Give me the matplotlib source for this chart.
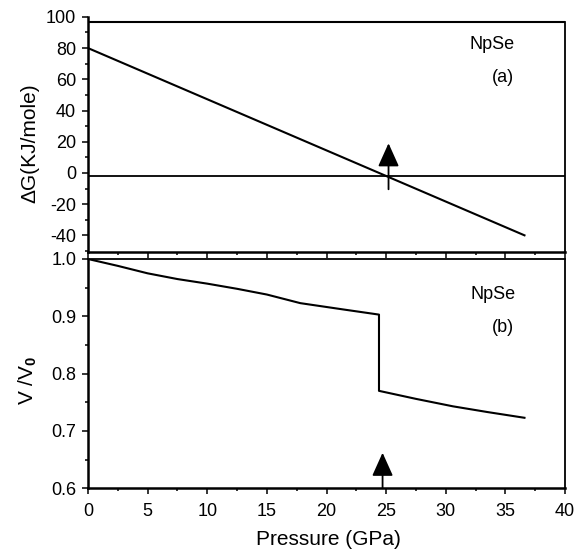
import matplotlib
matplotlib.use('Agg')
import matplotlib.pyplot as plt
from matplotlib.ticker import MultipleLocator

plt.rcParams['font.family'] = ['Liberation Sans', 'DejaVu Sans']
plt.rcParams['mathtext.fontset'] = 'custom'
plt.rcParams['mathtext.rm'] = 'Liberation Sans'
plt.rcParams['mathtext.bf'] = 'Liberation Sans:bold'
plt.rcParams['axes.unicode_minus'] = False

# (a) free energy difference vs pressure
p_dg = [0, 36.6]
dg = [80, -40]
dg_zero_line = -2
p_trans_a = 25.2

# (b) relative volume vs pressure
p_v = [0, 2.5, 5, 7.5, 10, 12.5, 15, 17.8, 21.4, 24.4, 24.4, 27.5, 30.6, 33.5, 36.6]
v_v0 = [1.0, 0.988, 0.975, 0.965, 0.957, 0.948, 0.938, 0.923, 0.912, 0.903,
        0.770, 0.756, 0.743, 0.733, 0.723]
p_trans_b = 24.7

fig = plt.figure(figsize=(5.86, 5.52), dpi=100)
ax1 = fig.add_axes([0.1502, 0.5426, 0.814, 0.4268])
ax2 = fig.add_axes([0.1502, 0.1154, 0.814, 0.4154])

for ax in (ax1, ax2):
    ax.set_xlim(0, 40)
    ax.xaxis.set_major_locator(MultipleLocator(5))
    ax.xaxis.set_minor_locator(MultipleLocator(2.5))
    ax.tick_params(which='major', direction='out', length=4.5, width=1.1,
                   labelsize=13, pad=4)
    ax.tick_params(which='minor', direction='out', length=2.2, width=1.1)
    for s in ax.spines.values():
        s.set_linewidth(1.3)
    ax.spines['left'].set_linewidth(1.8)
    ax.spines['bottom'].set_linewidth(1.8)

# top panel
ax1.plot(p_dg, dg, color='black', lw=1.5)
ax1.axhline(dg_zero_line, color='black', lw=1.3)
ax1.set_ylim(-51, 100)
ax1.yaxis.set_major_locator(MultipleLocator(20))
ax1.yaxis.set_minor_locator(MultipleLocator(10))
ax1.tick_params(axis='x', labelbottom=False)
ax1.spines['top'].set_visible(False)
ax1.axhline(96.7, color='black', lw=1.5)
ax1.spines['right'].set_bounds(-51, 96.7)
ax1.set_ylabel('ΔG(KJ/mole)', fontsize=15)
ax1.yaxis.set_label_coords(-0.103, 0.465)
ax1.text(33.9, 82, 'NpSe', fontsize=13, ha='center', va='center')
ax1.text(34.8, 61, '(a)', fontsize=13, ha='center', va='center')
ax1.annotate('', xy=(p_trans_a, 19), xytext=(p_trans_a, -10.5),
             arrowprops=dict(arrowstyle='-|>,head_length=1.0,head_width=0.45',
                             mutation_scale=14.4, color='black', lw=1.3,
                             shrinkA=0, shrinkB=0))

# bottom panel
ax2.plot(p_v, v_v0, color='black', lw=1.5)
ax2.set_ylim(0.6, 1.0)
ax2.yaxis.set_major_locator(MultipleLocator(0.1))
ax2.yaxis.set_minor_locator(MultipleLocator(0.05))
ax2.yaxis.set_major_formatter(plt.FormatStrFormatter('%.1f'))
ax2.tick_params(axis='x', pad=6)
ax2.set_ylabel(r'V /V$_\mathbf{0}$', fontsize=15)
ax2.yaxis.set_label_coords(-0.103, 0.472)
ax2.set_xlabel('Pressure (GPa)', fontsize=15)
ax2.xaxis.set_label_coords(0.505, -0.18)
ax2.text(34.0, 0.938, 'NpSe', fontsize=13, ha='center', va='center')
ax2.text(34.8, 0.881, '(b)', fontsize=13, ha='center', va='center')
ax2.annotate('', xy=(p_trans_b, 0.662), xytext=(p_trans_b, 0.6),
             arrowprops=dict(arrowstyle='-|>,head_length=1.0,head_width=0.45',
                             mutation_scale=14.4, color='black', lw=1.3,
                             shrinkA=0, shrinkB=0))

fig.savefig('out.png', dpi=100)
plt.close(fig)
